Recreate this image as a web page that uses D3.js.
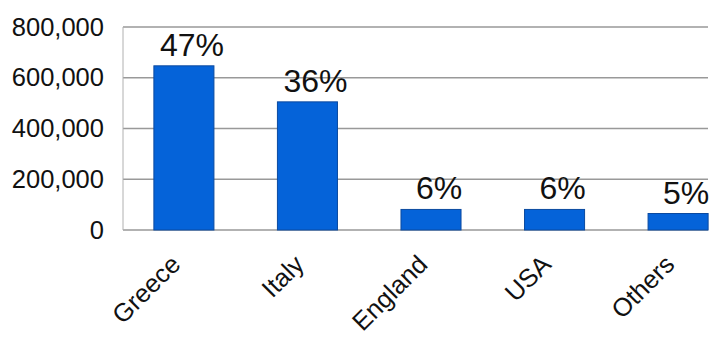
<!DOCTYPE html>
<html>
<head>
<meta charset="utf-8">
<script src="https://cdn.jsdelivr.net/npm/d3@7"></script>
<style>
  html, body { margin: 0; padding: 0; background: #fff; }
  svg { display: block; font-family: "Liberation Sans", Arial, sans-serif; }
</style>
</head>
<body>
<svg id="chart" width="710" height="340"></svg>
<script>
// Visitors by country of origin
const countries = ["Greece", "Italy", "England", "USA", "Others"];
const visitors = [647000, 505000, 81000, 81000, 65000];
const shareLabels = ["47%", "36%", "6%", "6%", "5%"];
const yTicks = [0, 200000, 400000, 600000, 800000];

const svg = d3.select("#chart");
const plot = { left: 123, top: 27, right: 708, bottom: 230 };

const x = d3.scaleBand()
  .domain(countries)
  .range([plot.left, 739])
  .paddingInner(0.514)
  .paddingOuter(0.25);

const y = d3.scaleLinear()
  .domain([0, 800000])
  .range([plot.bottom, plot.top]);

svg.append("defs").append("clipPath").attr("id", "plotClip")
  .append("rect")
  .attr("x", plot.left).attr("y", 0)
  .attr("width", plot.right - plot.left + 1).attr("height", 340);

// Horizontal grid lines
svg.append("g")
  .selectAll("line")
  .data(yTicks)
  .join("line")
  .attr("x1", plot.left).attr("x2", plot.right)
  .attr("y1", d => y(d)).attr("y2", d => y(d))
  .attr("stroke", "#999")
  .attr("stroke-width", 1.5);

// Left frame edge
svg.append("line")
  .attr("x1", plot.left).attr("x2", plot.left)
  .attr("y1", plot.top).attr("y2", plot.bottom)
  .attr("stroke", "#b0b0b0")
  .attr("stroke-width", 1);

// Y axis labels
const yAxis = d3.axisLeft(y)
  .tickValues(yTicks)
  .tickFormat(d3.format(","))
  .tickSize(0)
  .tickPadding(19);
const gy = svg.append("g")
  .attr("transform", `translate(${plot.left},0)`)
  .call(yAxis);
gy.select(".domain").remove();
gy.selectAll("text")
  .attr("font-size", 25.5)
  .attr("font-family", "Liberation Sans, Arial, sans-serif")
  .attr("fill", "#111");

// Bars
const bars = svg.append("g").attr("clip-path", "url(#plotClip)");
bars.selectAll("rect")
  .data(countries)
  .join("rect")
  .attr("x", d => x(d))
  .attr("y", (d, i) => y(visitors[i]))
  .attr("width", x.bandwidth())
  .attr("height", (d, i) => y(0) - y(visitors[i]))
  .attr("fill", "#0563d9")
  .attr("stroke", "#0b4aa0")
  .attr("stroke-width", 1);

// Share labels above bars
svg.append("g")
  .selectAll("text")
  .data(countries)
  .join("text")
  .attr("x", d => x(d) + x.bandwidth() / 2 + 8)
  .attr("y", (d, i) => y(visitors[i]) - 10)
  .attr("text-anchor", "middle")
  .attr("font-size", 32)
  .attr("fill", "#111")
  .text((d, i) => shareLabels[i]);

// Category labels, rotated
const xAxis = d3.axisBottom(x).tickSize(0).tickPadding(0);
const gx = svg.append("g")
  .attr("transform", `translate(0,${plot.bottom})`)
  .call(xAxis);
gx.select(".domain").remove();
gx.selectAll(".tick text")
  .attr("font-size", 25.5)
  .attr("font-family", "Liberation Sans, Arial, sans-serif")
  .attr("fill", "#111")
  .attr("text-anchor", "end")
  .attr("dy", null)
  .attr("y", null)
  .attr("transform", "translate(-2,36) rotate(-45)");
</script>
</body>
</html>
